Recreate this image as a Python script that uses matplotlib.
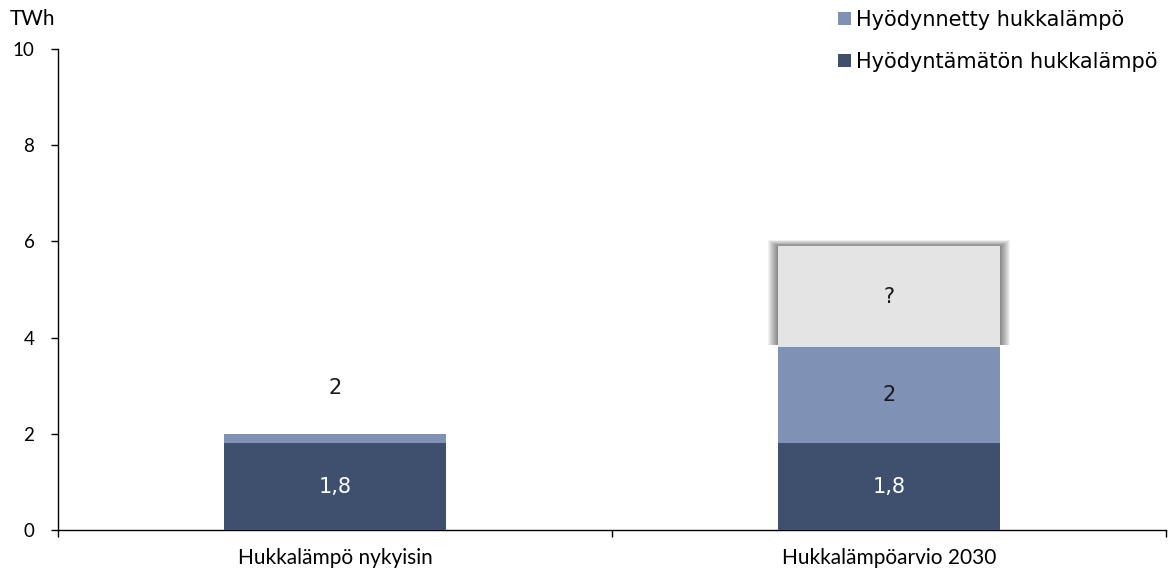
import matplotlib.pyplot as plt
from matplotlib.patches import Patch, Rectangle

# lukuarvot (TWh)
kategoriat = ["Hukkalämpö nykyisin", "Hukkalämpöarvio 2030"]
hyodyntamaton = [1.8, 1.8]
hyodynnetty = [0.2, 2.0]
tuntematon = [0.0, 2.1]
tuntematon_teksti = ["", "?"]
yhteensa_teksti = ["2", ""]
y_ticks = [0, 2, 4, 6, 8, 10]

tumma = "#3f4f6e"
vaalea = "#7f91b4"
harmaa = "#e4e4e4"

fig = plt.figure(figsize=(11.74, 5.70), dpi=100)
ax = fig.add_axes([0.0494, 0.0702, 0.9438, 0.8438])

x = list(range(len(kategoriat)))
leveys = 0.4

ax.bar(x, hyodyntamaton, width=leveys, color=tumma, zorder=3)
pohja = [hyodyntamaton[i] for i in x]
ax.bar(x, hyodynnetty, width=leveys, bottom=pohja, color=vaalea, zorder=3)
pohja2 = [hyodyntamaton[i] + hyodynnetty[i] for i in x]

# harmaa "?"-palkki varjon kanssa
for i in x:
    if tuntematon[i] <= 0:
        continue
    px_x = 554.0   # pikseliä / x-yksikkö
    px_y = 48.1    # pikseliä / y-yksikkö
    for k in range(1, 11):
        dx = k / px_x
        dy = 0.6 * k / px_y
        r = Rectangle((i - leveys / 2 - dx, pohja2[i] + 0.05), leveys + 2 * dx,
                      tuntematon[i] + dy - 0.05, facecolor="black",
                      edgecolor="none", alpha=0.055, zorder=2)
        ax.add_patch(r)
    ax.bar(i, tuntematon[i], width=leveys, bottom=pohja2[i], color=harmaa, zorder=4)
    ax.text(i, pohja2[i] + tuntematon[i] / 2, tuntematon_teksti[i], ha="center",
            va="center", fontsize=15, color="#1a1a1a", family="DejaVu Sans", zorder=5)

# arvotekstit
for i in x:
    ax.text(i, hyodyntamaton[i] / 2, ("%.1f" % hyodyntamaton[i]).replace(".", ","),
            ha="center", va="center", fontsize=15, color="white",
            family="DejaVu Sans", zorder=5)
    if hyodynnetty[i] >= 1:
        ax.text(i, pohja[i] + hyodynnetty[i] / 2, "%g" % hyodynnetty[i],
                ha="center", va="center", fontsize=15, color="#1a1a1a",
                family="DejaVu Sans", zorder=5)
    if yhteensa_teksti[i]:
        ax.annotate(yhteensa_teksti[i], (i, pohja2[i]), xytext=(0, 33),
                    textcoords="offset points", ha="center", va="center",
                    fontsize=15, color="#1a1a1a", family="DejaVu Sans")

ax.set_xlim(-0.5, 1.5)
ax.set_ylim(0, 10)
ax.set_yticks(y_ticks)
ax.set_yticklabels([str(t) for t in y_ticks], fontsize=13.5, family="Lato")
ax.set_xticks(x)
ax.set_xticklabels(kategoriat, fontsize=15, family="Lato")
ax.set_xticks([-0.5, 0.5, 1.5], minor=True)
ax.tick_params(axis="x", which="major", length=0, pad=13)
ax.tick_params(axis="x", which="minor", length=5, width=1, direction="out")
ax.tick_params(axis="y", length=5, width=1, direction="out", pad=12)

ax.spines["top"].set_visible(False)
ax.spines["right"].set_visible(False)
ax.spines["left"].set_linewidth(1)
ax.spines["bottom"].set_linewidth(1)

fig.text(0.0085, 0.966, "TWh", fontsize=15, family="Lato", va="center")

kahvat = [Patch(facecolor=vaalea, edgecolor="none"),
          Patch(facecolor=tumma, edgecolor="none")]
nimet = ["Hyödynnetty hukkalämpö", "Hyödyntämätön hukkalämpö"]
fig.legend(kahvat, nimet, loc="upper left", bbox_to_anchor=(0.698, 1.015),
           frameon=False, prop={"family": "DejaVu Sans", "size": 15},
           handlelength=0.6, handleheight=0.6, handletextpad=0.25,
           labelspacing=1.05)

fig.savefig("out.png", dpi=100)
